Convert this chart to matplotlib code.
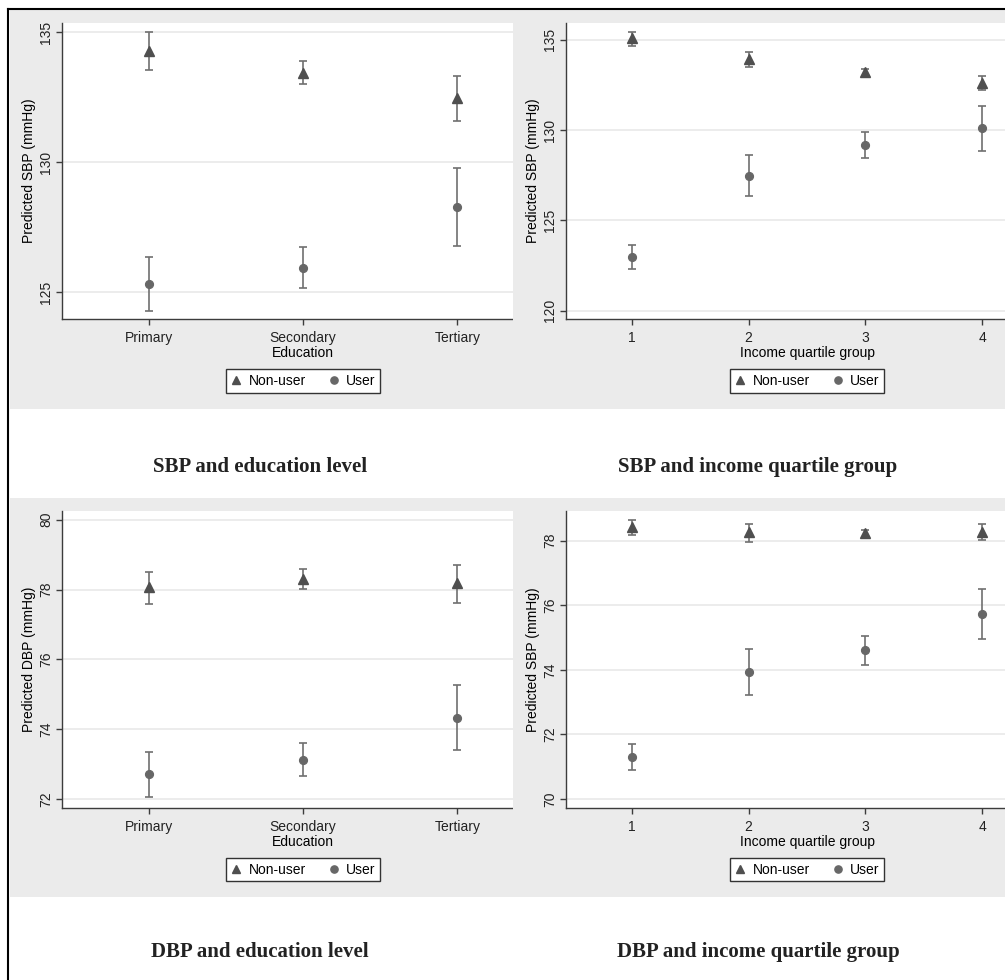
import matplotlib
matplotlib.use('Agg')
import matplotlib.pyplot as plt
from matplotlib.patches import Rectangle
from matplotlib.lines import Line2D

plt.rcParams['font.family'] = ['Liberation Sans', 'DejaVu Sans']

# Category labels
edu_labels = ['Primary', 'Secondary', 'Tertiary']
income_labels = ['1', '2', '3', '4']

# SBP by education level (estimate, lower CI, upper CI)
sbp_edu_non = [134.28, 133.43, 132.45]
sbp_edu_non_lo = [133.54, 132.99, 131.58]
sbp_edu_non_hi = [135.00, 133.90, 133.32]
sbp_edu_user = [125.31, 125.95, 128.27]
sbp_edu_user_lo = [124.28, 125.18, 126.76]
sbp_edu_user_hi = [126.35, 126.73, 129.78]

# SBP by income quartile
sbp_inc_non = [135.11, 133.91, 133.20, 132.60]
sbp_inc_non_lo = [134.67, 133.46, 132.97, 132.21]
sbp_inc_non_hi = [135.44, 134.34, 133.39, 132.97]
sbp_inc_user = [122.97, 127.47, 129.15, 130.09]
sbp_inc_user_lo = [122.32, 126.33, 128.45, 128.85]
sbp_inc_user_hi = [123.64, 128.63, 129.89, 131.34]

# DBP by education level
dbp_edu_non = [78.06, 78.31, 78.18]
dbp_edu_non_lo = [77.59, 78.02, 77.62]
dbp_edu_non_hi = [78.49, 78.59, 78.70]
dbp_edu_user = [72.71, 73.13, 74.33]
dbp_edu_user_lo = [72.07, 72.66, 73.39]
dbp_edu_user_hi = [73.35, 73.61, 75.27]

# DBP by income quartile
dbp_inc_non = [78.43, 78.26, 78.24, 78.28]
dbp_inc_non_lo = [78.18, 77.96, 78.10, 78.01]
dbp_inc_non_hi = [78.65, 78.53, 78.34, 78.53]
dbp_inc_user = [71.30, 73.93, 74.60, 75.74]
dbp_inc_user_lo = [70.90, 73.22, 74.16, 74.96]
dbp_inc_user_hi = [71.71, 74.64, 75.06, 76.51]

W, H = 1005, 980
GRAY = '#ebebeb'
AXCOL = '#3c3c3c'
TRI_COL = '#4f4f4f'
CIR_COL = '#676767'
BAR_COL = '#707070'


def fig_rect(left, top, right, bottom):
    """Convert pixel box (top-left origin) to figure fraction [l, b, w, h]."""
    return [left / W, 1 - bottom / H, (right - left) / W, (bottom - top) / H]


def draw_panel(ax, labels, non, non_lo, non_hi, user, user_lo, user_hi,
               ylim, yticks, ylabel, xlabel):
    x = list(range(1, len(labels) + 1))
    n = len(labels)

    for est, lo, hi, marker, col, ms in [
            (non, non_lo, non_hi, '^', TRI_COL, 6.8),
            (user, user_lo, user_hi, 'o', CIR_COL, 5.6)]:
        yerr = [[e - l for e, l in zip(est, lo)], [h - e for e, h in zip(est, hi)]]
        ax.errorbar(x, est, yerr=yerr, fmt='none', ecolor=BAR_COL,
                    elinewidth=1.2, capsize=3.0, capthick=1.2, zorder=3)
        ax.plot(x, est, linestyle='none', marker=marker, color=col,
                markersize=ms, zorder=4)

    ax.set_xlim(1 - 0.56, n + 0.56)
    ax.set_ylim(*ylim)
    ax.set_xticks(x)
    ax.set_xticklabels(labels, fontsize=10)
    ax.set_yticks(yticks)
    ax.set_yticklabels([str(t) for t in yticks], fontsize=10,
                       rotation=90, va='center')
    ax.set_ylabel(ylabel, fontsize=10, labelpad=2)
    ax.set_xlabel(xlabel, fontsize=10, labelpad=1)

    ax.grid(axis='y', color='#eaeaea', linewidth=1.3)
    ax.set_axisbelow(True)
    for side in ['top', 'right']:
        ax.spines[side].set_visible(False)
    for side in ['left', 'bottom']:
        ax.spines[side].set_color(AXCOL)
        ax.spines[side].set_linewidth(1.0)
    ax.tick_params(colors=AXCOL, labelcolor='#222222', length=4.5, width=1.0, pad=2)
    ax.tick_params(axis='x', pad=4)
    ax.set_facecolor('white')

    handles = [
        Line2D([], [], linestyle='none', marker='^', color=TRI_COL, markersize=6),
        Line2D([], [], linestyle='none', marker='o', color=CIR_COL, markersize=5.2),
    ]
    leg = ax.legend(handles, ['Non-user', 'User'], ncol=2, loc='upper center',
                    bbox_to_anchor=(0.5, -0.145), fontsize=10, frameon=True,
                    fancybox=False, framealpha=1, edgecolor='#333333',
                    handlelength=0.8, handletextpad=0.5, columnspacing=1.6,
                    borderpad=0.35)
    leg.get_frame().set_linewidth(1.0)


fig = plt.figure(figsize=(W / 100, H / 100), dpi=100)
fig.patch.set_facecolor('white')

band_tops = [10, 498]
band_bottoms = [409, 897]
axes_tops = [23, 511]
axes_bottoms = [319.3, 807.7]

# gray graph regions (left graph full width, right graph drawn over it)
for bt, bb in zip(band_tops, band_bottoms):
    fig.patches.append(Rectangle((10 / W, 1 - bb / H), (W - 10) / W, (bb - bt) / H,
                                 transform=fig.transFigure, facecolor=GRAY,
                                 edgecolor='none', zorder=-1))
    fig.patches.append(Rectangle((513 / W, 1 - bb / H), (W - 513) / W, (bb - bt) / H,
                                 transform=fig.transFigure, facecolor=GRAY,
                                 edgecolor='none', zorder=1))

panels = [
    (0, 0, edu_labels, sbp_edu_non, sbp_edu_non_lo, sbp_edu_non_hi,
     sbp_edu_user, sbp_edu_user_lo, sbp_edu_user_hi,
     (123.96, 135.35), [125, 130, 135], 'Predicted SBP (mmHg)', 'Education'),
    (0, 1, income_labels, sbp_inc_non, sbp_inc_non_lo, sbp_inc_non_hi,
     sbp_inc_user, sbp_inc_user_lo, sbp_inc_user_hi,
     (119.52, 135.92), [120, 125, 130, 135], 'Predicted SBP (mmHg)', 'Income quartile group'),
    (1, 0, edu_labels, dbp_edu_non, dbp_edu_non_lo, dbp_edu_non_hi,
     dbp_edu_user, dbp_edu_user_lo, dbp_edu_user_hi,
     (71.75, 80.25), [72, 74, 76, 78, 80], 'Predicted DBP (mmHg)', 'Education'),
    (1, 1, income_labels, dbp_inc_non, dbp_inc_non_lo, dbp_inc_non_hi,
     dbp_inc_user, dbp_inc_user_lo, dbp_inc_user_hi,
     (69.73, 78.92), [70, 72, 74, 76, 78], 'Predicted SBP (mmHg)', 'Income quartile group'),
]

for row, col, labels, non, non_lo, non_hi, user, user_lo, user_hi, ylim, yticks, ylabel, xlabel in panels:
    left = 62 if col == 0 else 566
    rect = fig_rect(left, axes_tops[row], left + 482, axes_bottoms[row])
    ax = fig.add_axes(rect, zorder=0 if col == 0 else 2)
    draw_panel(ax, labels, non, non_lo, non_hi, user, user_lo, user_hi,
               ylim, yticks, ylabel, xlabel)

# panel captions
titles = [
    ('SBP and education level', 260, 467),
    ('SBP and income quartile group', 758, 467),
    ('DBP and education level', 260, 952),
    ('DBP and income quartile group', 758, 952),
]
for text, cx, cy in titles:
    fig.text(cx / W, 1 - cy / H, text, ha='center', va='center',
             fontsize=15, fontweight='bold', family='Liberation Serif', color='#222222')

# black frame lines at top and left
fig.lines.append(Line2D([8 / W, 1], [1 - 9 / H, 1 - 9 / H], transform=fig.transFigure,
                        color='black', linewidth=1.5, zorder=5))
fig.lines.append(Line2D([8 / W, 8 / W], [0, 1 - 9 / H], transform=fig.transFigure,
                        color='black', linewidth=1.5, zorder=5))

fig.savefig('out.png', dpi=100)
